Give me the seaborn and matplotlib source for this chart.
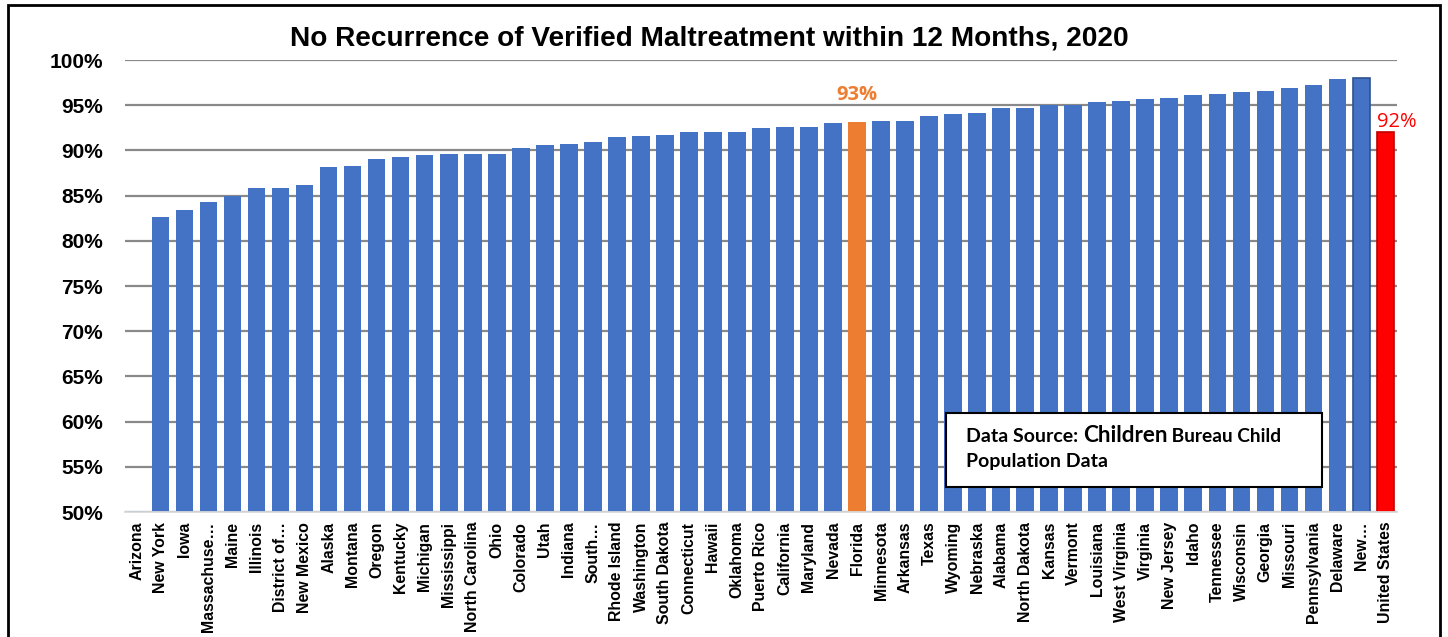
import pandas as pd
import numpy as np
import seaborn as sns
import matplotlib.pyplot as plt
from matplotlib.patches import Rectangle

states = ['Arizona', 'New York', 'Iowa', 'Massachuse…', 'Maine', 'Illinois', 'District of…',
          'New Mexico', 'Alaska', 'Montana', 'Oregon', 'Kentucky', 'Michigan', 'Mississippi',
          'North Carolina', 'Ohio', 'Colorado', 'Utah', 'Indiana', 'South…', 'Rhode Island',
          'Washington', 'South Dakota', 'Connecticut', 'Hawaii', 'Oklahoma', 'Puerto Rico',
          'California', 'Maryland', 'Nevada', 'Florida', 'Minnesota', 'Arkansas', 'Texas',
          'Wyoming', 'Nebraska', 'Alabama', 'North Dakota', 'Kansas', 'Vermont', 'Louisiana',
          'West Virginia', 'Virginia', 'New Jersey', 'Idaho', 'Tennessee', 'Wisconsin',
          'Georgia', 'Missouri', 'Pennsylvania', 'Delaware', 'New…', 'United States']
pct = [50.1, 82.6, 83.4, 84.3, 85.0, 85.8, 85.8, 86.2, 88.2, 88.3, 89.1, 89.3, 89.5, 89.6,
       89.6, 89.6, 90.3, 90.6, 90.7, 90.9, 91.5, 91.6, 91.7, 92.0, 92.0, 92.0, 92.5, 92.6,
       92.6, 93.0, 93.1, 93.2, 93.3, 93.8, 94.0, 94.1, 94.7, 94.7, 95.0, 95.0, 95.4, 95.5,
       95.7, 95.8, 96.1, 96.2, 96.5, 96.6, 96.9, 97.2, 97.9, 98.0, 92.0]

df = pd.DataFrame({'state': states, 'pct': pct})

blue = '#4472C4'
colors = [blue] * len(states)
colors[states.index('Florida')] = '#ED7D31'
colors[states.index('United States')] = '#FF0000'

plt.rcParams['font.family'] = ['Liberation Sans', 'DejaVu Sans']
fig = plt.figure(figsize=(14.48, 6.37), dpi=100)
ax = fig.add_axes([0.0863, 0.1962, 0.8785, 0.7096])

sns.barplot(data=df, x='state', y='pct', hue='state', palette=colors, legend=False,
            width=0.71, saturation=1, ax=ax, zorder=3)

for i, bar in enumerate(ax.patches):
    if states[i] == 'New…':
        bar.set_edgecolor('#2F528F')
        bar.set_linewidth(1.2)
    elif states[i] == 'United States':
        bar.set_edgecolor('#C00000')
        bar.set_linewidth(1.2)

ax.set_ylim(50, 100)
ax.set_xlim(-0.5, len(states) - 0.5)
ax.set_yticks(np.arange(50, 101, 5))
ax.set_yticklabels([f'{v}%' for v in range(50, 101, 5)], fontsize=15, fontweight='bold')
ax.tick_params(axis='y', length=0, pad=16)
ax.tick_params(axis='x', length=0, pad=7)
plt.xticks(rotation=90, fontsize=11.4, fontweight='bold')
ax.set_xlabel('')
ax.set_ylabel('')
ax.grid(axis='y', color='#898989', linewidth=1.6, zorder=0)
ax.set_axisbelow(True)
for side in ['top', 'right', 'left']:
    ax.spines[side].set_visible(False)
ax.spines['bottom'].set_color('#D9D9D9')
ax.spines['bottom'].set_linewidth(1.3)
ax.spines['bottom'].set_zorder(4)

fig.text(0.49, 0.94, 'No Recurrence of Verified Maltreatment within 12 Months, 2020',
         ha='center', va='center', fontsize=20.2, fontweight='bold')

fl = states.index('Florida')
ax.text(fl, pct[fl] + 1.9, '93%', ha='center', va='bottom', color='#ED7D31',
        fontsize=14.5, fontweight='bold', family=['Open Sans', 'DejaVu Sans'])
us = states.index('United States')
ax.text(us + 0.5, pct[us] + 0.05, '92%', ha='center', va='bottom', color='#FF0000',
        fontsize=14.5, family=['Open Sans', 'DejaVu Sans'])

# source note box
bx0, by0, bx1, by1 = 946 / 1448, 1 - 487 / 637, 1322 / 1448, 1 - 413 / 637
fig.add_artist(Rectangle((bx0, by0), bx1 - bx0, by1 - by0, transform=fig.transFigure,
                         facecolor='white', edgecolor='black', linewidth=1.5, zorder=10))
fig.canvas.draw()
renderer = fig.canvas.get_renderer()
x = 966 / 1448
y1 = 1 - 442 / 637
for piece, size in [('Data Source: ', 14), ('Children', 16.2), (' Bureau Child', 13.8)]:
    t = fig.text(x, y1, piece, fontsize=size, fontweight='bold', va='baseline',
                 family=['Lato', 'DejaVu Sans'], zorder=11)
    bb = t.get_window_extent(renderer)
    x += bb.width / fig.bbox.width
fig.text(966 / 1448, 1 - 467 / 637, 'Population Data', fontsize=14, fontweight='bold',
         va='baseline', family=['Lato', 'DejaVu Sans'], zorder=11)

# outer frame
fig.add_artist(Rectangle((8 / 1448, -0.02), 1432 / 1448, 1.012, transform=fig.transFigure,
                         fill=False, edgecolor='black', linewidth=2))

fig.savefig('out.png', dpi=100)
